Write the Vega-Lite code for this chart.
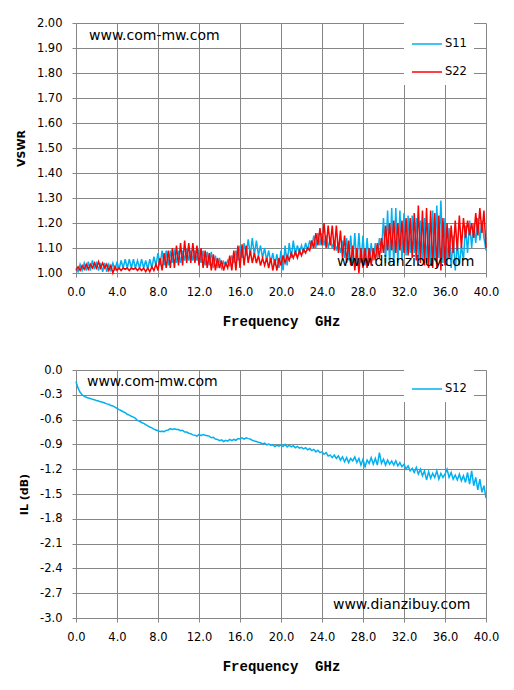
{
  "$schema": "https://vega.github.io/schema/vega-lite/v6.json",
  "background": "white",
  "padding": {"left": 15, "top": 17, "right": 5, "bottom": 5},
  "spacing": 35,
  "datasets": {
    "sp": [
      {"f": 0.0, "S11": 1.02, "S22": 1.01, "S12": -0.14},
      {"f": 0.2, "S11": 1.005, "S22": 1.025, "S12": -0.22},
      {"f": 0.4, "S11": 1.035, "S22": 1.01, "S12": -0.27},
      {"f": 0.6, "S11": 1.01, "S22": 1.03, "S12": -0.30},
      {"f": 0.8, "S11": 1.04, "S22": 1.015, "S12": -0.32},
      {"f": 1.0, "S11": 1.01, "S22": 1.035, "S12": -0.33},
      {"f": 1.2, "S11": 1.045, "S22": 1.015, "S12": -0.34},
      {"f": 1.4, "S11": 1.01, "S22": 1.035, "S12": -0.345},
      {"f": 1.6, "S11": 1.05, "S22": 1.02, "S12": -0.355},
      {"f": 1.8, "S11": 1.015, "S22": 1.04, "S12": -0.36},
      {"f": 2.0, "S11": 1.045, "S22": 1.02, "S12": -0.37},
      {"f": 2.2, "S11": 1.01, "S22": 1.045, "S12": -0.375},
      {"f": 2.4, "S11": 1.04, "S22": 1.02, "S12": -0.385},
      {"f": 2.6, "S11": 1.005, "S22": 1.04, "S12": -0.39},
      {"f": 2.8, "S11": 1.04, "S22": 1.02, "S12": -0.40},
      {"f": 3.0, "S11": 1.005, "S22": 1.035, "S12": -0.41},
      {"f": 3.2, "S11": 1.035, "S22": 1.01, "S12": -0.415},
      {"f": 3.4, "S11": 1.01, "S22": 1.03, "S12": -0.43},
      {"f": 3.6, "S11": 1.04, "S22": 1.00, "S12": -0.435},
      {"f": 3.8, "S11": 1.01, "S22": 1.025, "S12": -0.45},
      {"f": 4.0, "S11": 1.045, "S22": 1.01, "S12": -0.465},
      {"f": 4.2, "S11": 1.015, "S22": 1.02, "S12": -0.48},
      {"f": 4.4, "S11": 1.05, "S22": 1.01, "S12": -0.49},
      {"f": 4.6, "S11": 1.02, "S22": 1.02, "S12": -0.505},
      {"f": 4.8, "S11": 1.055, "S22": 1.015, "S12": -0.515},
      {"f": 5.0, "S11": 1.02, "S22": 1.02, "S12": -0.535},
      {"f": 5.2, "S11": 1.055, "S22": 1.01, "S12": -0.545},
      {"f": 5.4, "S11": 1.02, "S22": 1.02, "S12": -0.56},
      {"f": 5.6, "S11": 1.055, "S22": 1.015, "S12": -0.57},
      {"f": 5.8, "S11": 1.02, "S22": 1.02, "S12": -0.585},
      {"f": 6.0, "S11": 1.05, "S22": 1.01, "S12": -0.61},
      {"f": 6.2, "S11": 1.02, "S22": 1.02, "S12": -0.62},
      {"f": 6.4, "S11": 1.055, "S22": 1.01, "S12": -0.635},
      {"f": 6.6, "S11": 1.02, "S22": 1.02, "S12": -0.645},
      {"f": 6.8, "S11": 1.05, "S22": 1.005, "S12": -0.66},
      {"f": 7.0, "S11": 1.015, "S22": 1.02, "S12": -0.675},
      {"f": 7.2, "S11": 1.055, "S22": 1.005, "S12": -0.69},
      {"f": 7.4, "S11": 1.02, "S22": 1.025, "S12": -0.70},
      {"f": 7.6, "S11": 1.065, "S22": 1.01, "S12": -0.715},
      {"f": 7.8, "S11": 1.03, "S22": 1.035, "S12": -0.725},
      {"f": 8.0, "S11": 1.08, "S22": 1.01, "S12": -0.735},
      {"f": 8.2, "S11": 1.03, "S22": 1.06, "S12": -0.745},
      {"f": 8.4, "S11": 1.09, "S22": 1.01, "S12": -0.74},
      {"f": 8.6, "S11": 1.03, "S22": 1.08, "S12": -0.745},
      {"f": 8.8, "S11": 1.09, "S22": 1.02, "S12": -0.73},
      {"f": 9.0, "S11": 1.03, "S22": 1.09, "S12": -0.725},
      {"f": 9.2, "S11": 1.09, "S22": 1.02, "S12": -0.71},
      {"f": 9.4, "S11": 1.04, "S22": 1.10, "S12": -0.72},
      {"f": 9.6, "S11": 1.095, "S22": 1.02, "S12": -0.71},
      {"f": 9.8, "S11": 1.04, "S22": 1.11, "S12": -0.72},
      {"f": 10.0, "S11": 1.09, "S22": 1.03, "S12": -0.72},
      {"f": 10.2, "S11": 1.04, "S22": 1.12, "S12": -0.735},
      {"f": 10.4, "S11": 1.09, "S22": 1.03, "S12": -0.73},
      {"f": 10.6, "S11": 1.05, "S22": 1.13, "S12": -0.75},
      {"f": 10.8, "S11": 1.095, "S22": 1.04, "S12": -0.75},
      {"f": 11.0, "S11": 1.05, "S22": 1.12, "S12": -0.765},
      {"f": 11.2, "S11": 1.09, "S22": 1.04, "S12": -0.77},
      {"f": 11.4, "S11": 1.05, "S22": 1.12, "S12": -0.785},
      {"f": 11.6, "S11": 1.09, "S22": 1.04, "S12": -0.79},
      {"f": 11.8, "S11": 1.05, "S22": 1.11, "S12": -0.80},
      {"f": 12.0, "S11": 1.095, "S22": 1.03, "S12": -0.78},
      {"f": 12.2, "S11": 1.04, "S22": 1.10, "S12": -0.795},
      {"f": 12.4, "S11": 1.09, "S22": 1.02, "S12": -0.78},
      {"f": 12.6, "S11": 1.03, "S22": 1.09, "S12": -0.79},
      {"f": 12.8, "S11": 1.085, "S22": 1.02, "S12": -0.795},
      {"f": 13.0, "S11": 1.03, "S22": 1.08, "S12": -0.80},
      {"f": 13.2, "S11": 1.085, "S22": 1.01, "S12": -0.82},
      {"f": 13.4, "S11": 1.02, "S22": 1.075, "S12": -0.815},
      {"f": 13.6, "S11": 1.07, "S22": 1.01, "S12": -0.835},
      {"f": 13.8, "S11": 1.02, "S22": 1.06, "S12": -0.84},
      {"f": 14.0, "S11": 1.06, "S22": 1.02, "S12": -0.855},
      {"f": 14.2, "S11": 1.02, "S22": 1.05, "S12": -0.845},
      {"f": 14.4, "S11": 1.045, "S22": 1.01, "S12": -0.865},
      {"f": 14.6, "S11": 1.03, "S22": 1.04, "S12": -0.85},
      {"f": 14.8, "S11": 1.05, "S22": 1.02, "S12": -0.86},
      {"f": 15.0, "S11": 1.03, "S22": 1.07, "S12": -0.84},
      {"f": 15.2, "S11": 1.07, "S22": 1.01, "S12": -0.855},
      {"f": 15.4, "S11": 1.04, "S22": 1.09, "S12": -0.84},
      {"f": 15.6, "S11": 1.09, "S22": 1.01, "S12": -0.85},
      {"f": 15.8, "S11": 1.05, "S22": 1.11, "S12": -0.83},
      {"f": 16.0, "S11": 1.11, "S22": 1.02, "S12": -0.835},
      {"f": 16.2, "S11": 1.06, "S22": 1.115, "S12": -0.82},
      {"f": 16.4, "S11": 1.12, "S22": 1.03, "S12": -0.835},
      {"f": 16.6, "S11": 1.07, "S22": 1.11, "S12": -0.82},
      {"f": 16.8, "S11": 1.135, "S22": 1.04, "S12": -0.83},
      {"f": 17.0, "S11": 1.07, "S22": 1.09, "S12": -0.835},
      {"f": 17.2, "S11": 1.14, "S22": 1.04, "S12": -0.85},
      {"f": 17.4, "S11": 1.07, "S22": 1.08, "S12": -0.86},
      {"f": 17.6, "S11": 1.13, "S22": 1.04, "S12": -0.865},
      {"f": 17.8, "S11": 1.07, "S22": 1.07, "S12": -0.875},
      {"f": 18.0, "S11": 1.11, "S22": 1.03, "S12": -0.88},
      {"f": 18.2, "S11": 1.06, "S22": 1.06, "S12": -0.895},
      {"f": 18.4, "S11": 1.10, "S22": 1.03, "S12": -0.885},
      {"f": 18.6, "S11": 1.05, "S22": 1.06, "S12": -0.905},
      {"f": 18.8, "S11": 1.09, "S22": 1.02, "S12": -0.895},
      {"f": 19.0, "S11": 1.04, "S22": 1.06, "S12": -0.91},
      {"f": 19.2, "S11": 1.08, "S22": 1.01, "S12": -0.905},
      {"f": 19.4, "S11": 1.03, "S22": 1.055, "S12": -0.925},
      {"f": 19.6, "S11": 1.075, "S22": 1.01, "S12": -0.91},
      {"f": 19.8, "S11": 1.02, "S22": 1.06, "S12": -0.92},
      {"f": 20.0, "S11": 1.09, "S22": 1.03, "S12": -0.905},
      {"f": 20.2, "S11": 1.01, "S22": 1.07, "S12": -0.925},
      {"f": 20.4, "S11": 1.11, "S22": 1.04, "S12": -0.90},
      {"f": 20.6, "S11": 1.03, "S22": 1.07, "S12": -0.93},
      {"f": 20.8, "S11": 1.12, "S22": 1.05, "S12": -0.91},
      {"f": 21.0, "S11": 1.06, "S22": 1.08, "S12": -0.93},
      {"f": 21.2, "S11": 1.13, "S22": 1.06, "S12": -0.915},
      {"f": 21.4, "S11": 1.07, "S22": 1.085, "S12": -0.94},
      {"f": 21.6, "S11": 1.11, "S22": 1.06, "S12": -0.925},
      {"f": 21.8, "S11": 1.08, "S22": 1.09, "S12": -0.945},
      {"f": 22.0, "S11": 1.11, "S22": 1.07, "S12": -0.935},
      {"f": 22.2, "S11": 1.08, "S22": 1.095, "S12": -0.955},
      {"f": 22.4, "S11": 1.12, "S22": 1.08, "S12": -0.94},
      {"f": 22.6, "S11": 1.09, "S22": 1.10, "S12": -0.965},
      {"f": 22.8, "S11": 1.13, "S22": 1.09, "S12": -0.95},
      {"f": 23.0, "S11": 1.10, "S22": 1.13, "S12": -0.975},
      {"f": 23.2, "S11": 1.15, "S22": 1.10, "S12": -0.96},
      {"f": 23.4, "S11": 1.10, "S22": 1.16, "S12": -0.99},
      {"f": 23.6, "S11": 1.16, "S22": 1.11, "S12": -0.97},
      {"f": 23.8, "S11": 1.11, "S22": 1.18, "S12": -1.00},
      {"f": 24.0, "S11": 1.16, "S22": 1.11, "S12": -0.99},
      {"f": 24.2, "S11": 1.11, "S22": 1.20, "S12": -1.02},
      {"f": 24.4, "S11": 1.15, "S22": 1.10, "S12": -1.00},
      {"f": 24.6, "S11": 1.10, "S22": 1.19, "S12": -1.04},
      {"f": 24.8, "S11": 1.14, "S22": 1.11, "S12": -1.03},
      {"f": 25.0, "S11": 1.10, "S22": 1.19, "S12": -1.06},
      {"f": 25.2, "S11": 1.13, "S22": 1.09, "S12": -1.03},
      {"f": 25.4, "S11": 1.09, "S22": 1.19, "S12": -1.07},
      {"f": 25.6, "S11": 1.12, "S22": 1.08, "S12": -1.04},
      {"f": 25.8, "S11": 1.08, "S22": 1.17, "S12": -1.09},
      {"f": 26.0, "S11": 1.13, "S22": 1.06, "S12": -1.05},
      {"f": 26.2, "S11": 1.06, "S22": 1.15, "S12": -1.11},
      {"f": 26.4, "S11": 1.14, "S22": 1.04, "S12": -1.06},
      {"f": 26.6, "S11": 1.05, "S22": 1.13, "S12": -1.12},
      {"f": 26.8, "S11": 1.15, "S22": 1.03, "S12": -1.07},
      {"f": 27.0, "S11": 1.04, "S22": 1.11, "S12": -1.10},
      {"f": 27.2, "S11": 1.16, "S22": 1.01, "S12": -1.05},
      {"f": 27.4, "S11": 1.03, "S22": 1.10, "S12": -1.12},
      {"f": 27.6, "S11": 1.16, "S22": 1.00, "S12": -1.07},
      {"f": 27.8, "S11": 1.04, "S22": 1.10, "S12": -1.15},
      {"f": 28.0, "S11": 1.15, "S22": 1.02, "S12": -1.08},
      {"f": 28.2, "S11": 1.03, "S22": 1.10, "S12": -1.17},
      {"f": 28.4, "S11": 1.14, "S22": 1.02, "S12": -1.09},
      {"f": 28.6, "S11": 1.04, "S22": 1.10, "S12": -1.13},
      {"f": 28.8, "S11": 1.12, "S22": 1.03, "S12": -1.06},
      {"f": 29.0, "S11": 1.05, "S22": 1.10, "S12": -1.14},
      {"f": 29.2, "S11": 1.12, "S22": 1.05, "S12": -1.07},
      {"f": 29.4, "S11": 1.06, "S22": 1.12, "S12": -1.15},
      {"f": 29.6, "S11": 1.14, "S22": 1.06, "S12": -1.00},
      {"f": 29.8, "S11": 1.08, "S22": 1.14, "S12": -1.13},
      {"f": 30.0, "S11": 1.22, "S22": 1.08, "S12": -1.08},
      {"f": 30.2, "S11": 1.04, "S22": 1.19, "S12": -1.15},
      {"f": 30.4, "S11": 1.25, "S22": 1.09, "S12": -1.09},
      {"f": 30.6, "S11": 1.03, "S22": 1.20, "S12": -1.14},
      {"f": 30.8, "S11": 1.26, "S22": 1.09, "S12": -1.10},
      {"f": 31.0, "S11": 1.03, "S22": 1.21, "S12": -1.15},
      {"f": 31.2, "S11": 1.26, "S22": 1.08, "S12": -1.10},
      {"f": 31.4, "S11": 1.04, "S22": 1.20, "S12": -1.16},
      {"f": 31.6, "S11": 1.25, "S22": 1.09, "S12": -1.12},
      {"f": 31.8, "S11": 1.05, "S22": 1.21, "S12": -1.17},
      {"f": 32.0, "S11": 1.24, "S22": 1.08, "S12": -1.14},
      {"f": 32.2, "S11": 1.07, "S22": 1.22, "S12": -1.20},
      {"f": 32.4, "S11": 1.23, "S22": 1.07, "S12": -1.16},
      {"f": 32.6, "S11": 1.08, "S22": 1.22, "S12": -1.22},
      {"f": 32.8, "S11": 1.23, "S22": 1.06, "S12": -1.19},
      {"f": 33.0, "S11": 1.08, "S22": 1.24, "S12": -1.24},
      {"f": 33.2, "S11": 1.22, "S22": 1.05, "S12": -1.18},
      {"f": 33.4, "S11": 1.07, "S22": 1.27, "S12": -1.26},
      {"f": 33.6, "S11": 1.21, "S22": 1.04, "S12": -1.20},
      {"f": 33.8, "S11": 1.05, "S22": 1.25, "S12": -1.28},
      {"f": 34.0, "S11": 1.22, "S22": 1.03, "S12": -1.22},
      {"f": 34.2, "S11": 1.04, "S22": 1.26, "S12": -1.33},
      {"f": 34.4, "S11": 1.20, "S22": 1.02, "S12": -1.23},
      {"f": 34.6, "S11": 1.03, "S22": 1.25, "S12": -1.31},
      {"f": 34.8, "S11": 1.25, "S22": 1.02, "S12": -1.25},
      {"f": 35.0, "S11": 1.05, "S22": 1.24, "S12": -1.30},
      {"f": 35.2, "S11": 1.27, "S22": 1.02, "S12": -1.22},
      {"f": 35.4, "S11": 1.06, "S22": 1.23, "S12": -1.32},
      {"f": 35.6, "S11": 1.29, "S22": 1.01, "S12": -1.25},
      {"f": 35.8, "S11": 1.04, "S22": 1.22, "S12": -1.30},
      {"f": 36.0, "S11": 1.22, "S22": 1.03, "S12": -1.26},
      {"f": 36.2, "S11": 1.03, "S22": 1.20, "S12": -1.20},
      {"f": 36.4, "S11": 1.18, "S22": 1.06, "S12": -1.30},
      {"f": 36.6, "S11": 1.02, "S22": 1.19, "S12": -1.24},
      {"f": 36.8, "S11": 1.15, "S22": 1.08, "S12": -1.32},
      {"f": 37.0, "S11": 1.01, "S22": 1.21, "S12": -1.27},
      {"f": 37.2, "S11": 1.12, "S22": 1.09, "S12": -1.33},
      {"f": 37.4, "S11": 1.03, "S22": 1.23, "S12": -1.26},
      {"f": 37.6, "S11": 1.11, "S22": 1.10, "S12": -1.34},
      {"f": 37.8, "S11": 1.05, "S22": 1.22, "S12": -1.28},
      {"f": 38.0, "S11": 1.19, "S22": 1.14, "S12": -1.36},
      {"f": 38.2, "S11": 1.08, "S22": 1.21, "S12": -1.24},
      {"f": 38.4, "S11": 1.21, "S22": 1.15, "S12": -1.38},
      {"f": 38.6, "S11": 1.10, "S22": 1.20, "S12": -1.22},
      {"f": 38.8, "S11": 1.20, "S22": 1.14, "S12": -1.40},
      {"f": 39.0, "S11": 1.12, "S22": 1.24, "S12": -1.30},
      {"f": 39.2, "S11": 1.22, "S22": 1.15, "S12": -1.45},
      {"f": 39.4, "S11": 1.13, "S22": 1.26, "S12": -1.32},
      {"f": 39.6, "S11": 1.21, "S22": 1.16, "S12": -1.48},
      {"f": 39.8, "S11": 1.14, "S22": 1.25, "S12": -1.40},
      {"f": 40.0, "S11": 1.09, "S22": 1.10, "S12": -1.55}
    ],
    "wmTop": [
      {"f": 1.27, "v": 1.948, "t": "www.com-mw.com"},
      {"f": 25.46, "v": 1.044, "t": "www.dianzibuy.com"}
    ],
    "wmBot": [
      {"f": 1.07, "v": -0.14, "t": "www.com-mw.com"},
      {"f": 25.07, "v": -2.84, "t": "www.dianzibuy.com"}
    ]
  },
  "resolve": {"scale": {"color": "independent"}, "legend": {"color": "independent"}},
  "vconcat": [
    {
      "width": 410,
      "height": 250,
      "layer": [
        {
          "data": {"name": "sp"},
          "transform": [{"fold": ["S11", "S22"], "as": ["series", "v"]}],
          "mark": {"type": "line", "strokeWidth": 1.5},
          "encoding": {
            "x": {"field": "f", "type": "quantitative",
                  "scale": {"domain": [0, 40], "nice": false},
                  "axis": {"values": [0, 4, 8, 12, 16, 20, 24, 28, 32, 36, 40], "tickCount": 20, "format": ".1f", "title": "Frequency\u00a0 GHz"}},
            "y": {"field": "v", "type": "quantitative",
                  "scale": {"domain": [1, 2], "nice": false, "zero": false},
                  "axis": {"values": [1, 1.1, 1.2, 1.3, 1.4, 1.5, 1.6, 1.7, 1.8, 1.9, 2], "tickCount": 20, "format": ".2f", "title": "VSWR"}},
            "color": {"field": "series", "type": "nominal",
                      "scale": {"domain": ["S11", "S22"], "range": ["#00B0F0", "#FF0000"]},
                      "legend": {"title": null, "orient": "none", "legendX": 328, "legendY": -2}}
          }
        },
        {
          "data": {"name": "wmTop"},
          "mark": {"type": "text", "align": "left", "baseline": "middle", "font": "DejaVu Sans", "fontSize": 14, "color": "black"},
          "encoding": {
            "x": {"field": "f", "type": "quantitative"},
            "y": {"field": "v", "type": "quantitative"},
            "text": {"field": "t"}
          }
        }
      ]
    },
    {
      "width": 410,
      "height": 248,
      "layer": [
        {
          "data": {"name": "sp"},
          "transform": [{"fold": ["S12"], "as": ["series", "v"]}],
          "mark": {"type": "line", "strokeWidth": 1.5},
          "encoding": {
            "x": {"field": "f", "type": "quantitative",
                  "scale": {"domain": [0, 40], "nice": false},
                  "axis": {"values": [0, 4, 8, 12, 16, 20, 24, 28, 32, 36, 40], "tickCount": 20, "format": ".1f", "title": "Frequency\u00a0 GHz"}},
            "y": {"field": "v", "type": "quantitative",
                  "scale": {"domain": [-3, 0], "nice": false, "zero": false},
                  "axis": {"values": [0, -0.3, -0.6, -0.9, -1.2, -1.5, -1.8, -2.1, -2.4, -2.7, -3], "tickCount": 20,
                           "labelExpr": "replace(format(datum.value, '.1f'), '\u2212', '-')", "title": "IL (dB)"}},
            "color": {"field": "series", "type": "nominal",
                      "scale": {"domain": ["S12"], "range": ["#00B0F0"]},
                      "legend": {"title": null, "orient": "none", "legendX": 328, "legendY": -4}}
          }
        },
        {
          "data": {"name": "wmBot"},
          "mark": {"type": "text", "align": "left", "baseline": "middle", "font": "DejaVu Sans", "fontSize": 14, "color": "black"},
          "encoding": {
            "x": {"field": "f", "type": "quantitative"},
            "y": {"field": "v", "type": "quantitative"},
            "text": {"field": "t"}
          }
        }
      ]
    }
  ],
  "config": {
    "view": {"stroke": null},
    "font": "DejaVu Sans",
    "axis": {
      "gridColor": "#868686",
      "gridOpacity": 1,
      "domainColor": "#868686",
      "tickColor": "#868686",
      "tickSize": 4,
      "labelFont": "DejaVu Sans",
      "labelFontSize": 11.5,
      "labelColor": "black",
      "titleColor": "black",
      "labelOverlap": false
    },
    "axisX": {
      "labelFlush": false,
      "labelPadding": 9,
      "titleFont": "Liberation Mono",
      "titleFontSize": 14,
      "titleFontWeight": "bold",
      "titlePadding": 17
    },
    "axisY": {
      "labelPadding": 10,
      "titleFont": "DejaVu Sans",
      "titleFontSize": 11,
      "titleFontWeight": "bold",
      "titlePadding": 10
    },
    "legend": {
      "fillColor": "white",
      "padding": 7,
      "symbolType": "stroke",
      "symbolSize": 900,
      "symbolStrokeWidth": 1.5,
      "labelFont": "DejaVu Sans",
      "labelFontSize": 11.5,
      "labelColor": "black",
      "labelOffset": 2,
      "rowPadding": 6
    }
  }
}
